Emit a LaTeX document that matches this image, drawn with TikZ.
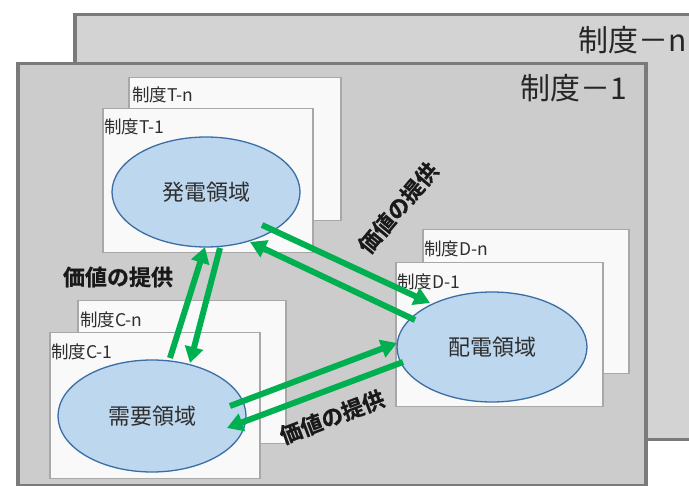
\documentclass[tikz,border=0pt]{standalone}
\usepackage{fontspec}
\setmainfont{Noto Sans CJK JP}
\newfontfamily\heavyfont[FakeBold=0.8]{Noto Sans CJK JP Bold}
\usetikzlibrary{arrows.meta,calc,shapes.geometric}
\definecolor{backbg}{HTML}{D3D3D3}
\definecolor{frontbg}{HTML}{CCCCCC}
\definecolor{panelline}{HTML}{7A7A7A}
\definecolor{boxbg}{HTML}{F9F9F9}
\definecolor{boxline}{HTML}{A8A8A8}
\definecolor{ellfill}{HTML}{BDD7EE}
\definecolor{ellline}{HTML}{3A6EA5}
\definecolor{arrgreen}{HTML}{00B050}
\definecolor{txt}{HTML}{2E2E2E}
\begin{document}
\begin{tikzpicture}[x=1pt,y=-1pt,
  panel/.style={draw=panelline,line width=3.5pt,anchor=north west,inner sep=0pt},
  box/.style={draw=boxline,fill=boxbg,line width=1.5pt,anchor=north west,inner sep=0pt},
  boxlbl/.style={anchor=west,inner sep=0pt,font=\fontsize{17.5}{19}\selectfont,text=txt},
  panellbl/.style={anchor=east,inner sep=0pt,font=\fontsize{30}{32}\selectfont,text=black!85},
  ell/.style={ellipse,draw=ellline,fill=ellfill,line width=1.3pt,inner sep=0pt,font=\fontsize{22}{24}\selectfont,text=txt},
  garrow/.style={draw=arrgreen,line width=6pt,-{Triangle[length=16pt,width=18pt]}},
  vallbl/.style={inner sep=0pt,font=\heavyfont\fontsize{22}{24}\selectfont,text=black!90}]
\clip (0,0) rectangle (689,486);
\fill[white] (0,0) rectangle (689,486);
% back panel
\node[panel,fill=backbg,minimum width=660pt,minimum height=425pt] (pn) at (73,13) {};
\node[panellbl] (pnl) at (687,40) {制度－n};
% front panel
\node[panel,fill=frontbg,minimum width=628pt,minimum height=422pt] (p1) at (16,62) {};
\node[panellbl] (p1l) at (627,88) {制度－1};
% T boxes
\node[box,minimum width=212pt,minimum height=143pt] (tn) at (128,77) {};
\node[boxlbl] (tnl) at (132,95) {制度T-n};
\node[box,minimum width=210pt,minimum height=144pt] (t1) at (102,108) {};
\node[boxlbl] (t1l) at (104,127) {制度T-1};
% D boxes
\node[box,minimum width=206pt,minimum height=144pt] (dn) at (422,229) {};
\node[boxlbl] (dnl) at (424,249) {制度D-n};
\node[box,minimum width=207pt,minimum height=144pt] (d1) at (395,262) {};
\node[boxlbl] (d1l) at (397,282) {制度D-1};
% C boxes
\node[box,minimum width=208pt,minimum height=143pt] (cn) at (77,300) {};
\node[boxlbl] (cnl) at (80,320) {制度C-n};
\node[box,minimum width=210pt,minimum height=146pt] (c1) at (49,332) {};
\node[boxlbl] (c1l) at (51,352) {制度C-1};
% ellipses
\node[ell,minimum width=188pt,minimum height=110pt] (gen) at (206,192) {発電領域};
\node[ell,minimum width=190pt,minimum height=110pt] (dist) at (492,347) {配電領域};
\node[ell,minimum width=188pt,minimum height=112pt] (need) at (152,416) {需要領域};
% arrows
\draw[garrow] ($(need)+(18,-58)$) -- ($(gen)+(-1,55)$);
\draw[garrow] ($(gen)+(14,56)$) -- ($(need)+(38,-53)$);
\draw[garrow] ($(gen)+(56,33)$) -- ($(dist)+(-62,-44)$);
\draw[garrow] ($(dist)+(-77,-27)$) -- ($(gen)+(44,50)$);
\draw[garrow] ($(need)+(78,-10)$) -- ($(dist)+(-95,-4)$);
\draw[garrow] ($(dist)+(-89,15)$) -- ($(need)+(75,12)$);
% labels
\node[vallbl] (v1) at (118,277) {価値の提供};
\node[vallbl,rotate=50] (v2) at (398,208) {価値の提供};
\node[vallbl,rotate=21] (v3) at (332,417) {価値の提供};
\end{tikzpicture}
\end{document}
